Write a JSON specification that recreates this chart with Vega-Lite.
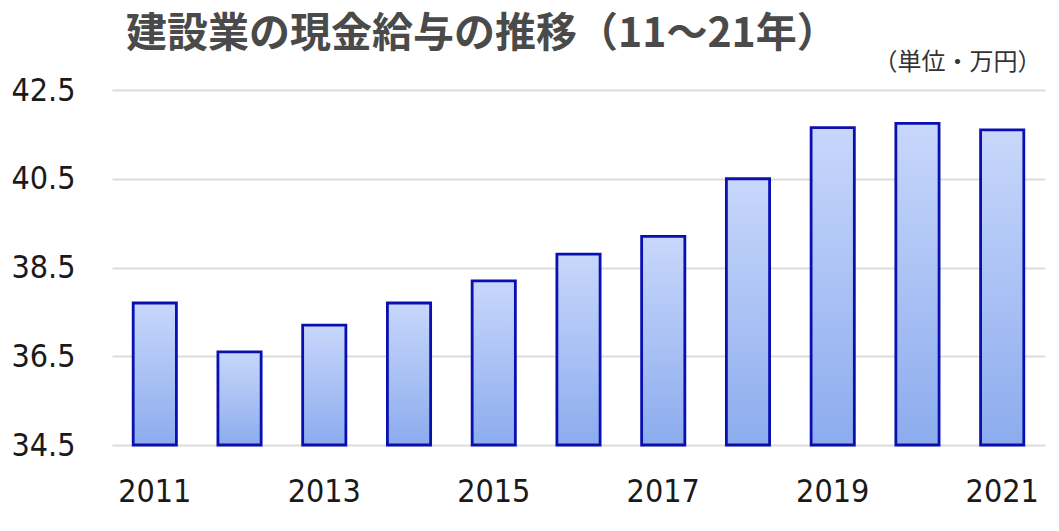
{
  "$schema": "https://vega.github.io/schema/vega-lite/v6.json",
  "autosize": {"type": "none"},
  "width": 933,
  "height": 355,
  "padding": {"left": 112, "top": 90, "right": 14, "bottom": 86},
  "background": "white",
  "title": {
    "text": "建設業の現金給与の推移（11～21年）",
    "anchor": "start",
    "frame": "group",
    "dx": 14,
    "offset": -6,
    "font": "Noto Sans CJK JP",
    "fontSize": 41,
    "fontWeight": "bold",
    "color": "#4a4a4a"
  },
  "data": {
    "values": [
      {"year": "2011", "wage": 37.7},
      {"year": "2012", "wage": 36.6},
      {"year": "2013", "wage": 37.2},
      {"year": "2014", "wage": 37.7},
      {"year": "2015", "wage": 38.2},
      {"year": "2016", "wage": 38.8},
      {"year": "2017", "wage": 39.2},
      {"year": "2018", "wage": 40.5},
      {"year": "2019", "wage": 41.65},
      {"year": "2020", "wage": 41.75},
      {"year": "2021", "wage": 41.6}
    ]
  },
  "mark": {
    "type": "bar",
    "stroke": "#0a10b0",
    "strokeWidth": 2.8,
    "fill": {
      "gradient": "linear",
      "x1": 0, "y1": 0, "x2": 0, "y2": 1,
      "stops": [
        {"offset": 0, "color": "#c8d7fb"},
        {"offset": 1, "color": "#8cacee"}
      ]
    }
  },
  "encoding": {
    "x": {
      "field": "year",
      "type": "ordinal",
      "scale": {"paddingInner": 0.49, "paddingOuter": 0.25},
      "axis": {
        "title": null,
        "values": ["2011", "2013", "2015", "2017", "2019", "2021"],
        "labelAngle": 0,
        "labelFont": "DejaVu Sans Condensed, Roboto, sans-serif",
        "labelFontSize": 32,
        "labelColor": "#1a1a1a",
        "labelPadding": 31,
        "ticks": false,
        "domain": false
      }
    },
    "y": {
      "field": "wage",
      "type": "quantitative",
      "scale": {"domain": [34.5, 42.5], "nice": false, "zero": false},
      "axis": {
        "title": "（単位・万円）",
        "titleAngle": 0,
        "titleAlign": "right",
        "titleBaseline": "middle",
        "titleX": 929,
        "titleY": -28,
        "titleFont": "Noto Sans CJK JP",
        "titleFontSize": 24,
        "titleFontWeight": "normal",
        "titleColor": "#333333",
        "values": [34.5, 36.5, 38.5, 40.5, 42.5],
        "format": ".1f",
        "labelFont": "DejaVu Sans Condensed, Roboto, sans-serif",
        "labelFontSize": 32,
        "labelColor": "#1a1a1a",
        "labelPadding": 37,
        "ticks": false,
        "domain": false,
        "grid": true,
        "gridColor": "#dcdcdc",
        "gridWidth": 2
      }
    },
    "y2": {"datum": 34.5}
  },
  "config": {"view": {"stroke": null}}
}
